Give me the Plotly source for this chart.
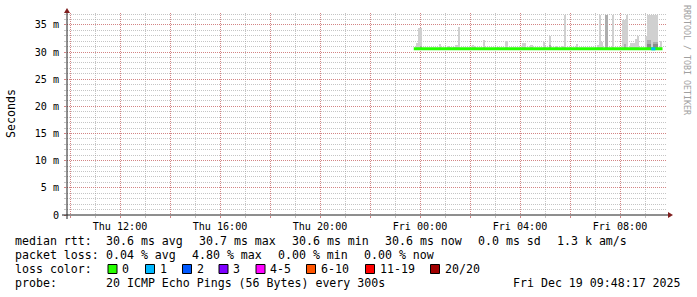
import plotly.graph_objects as go

# ---------------- data ----------------
x_range = ["2025-12-18 09:52:48", "2025-12-19 09:52:48"]
y_range = [0, 37.2]

median_rtt = 30.6
median_start = "2025-12-18 23:45"
median_end = "2025-12-19 09:42"
loss1_start = "2025-12-19 09:15"
loss1_end = "2025-12-19 09:25"

smoke_steps = [
    "2025-12-18 23:50", "2025-12-18 23:55", "2025-12-19 00:00", "2025-12-19 00:45",
    "2025-12-19 01:05", "2025-12-19 01:10", "2025-12-19 01:20", "2025-12-19 01:25",
    "2025-12-19 01:30", "2025-12-19 02:05", "2025-12-19 02:10", "2025-12-19 02:30",
    "2025-12-19 03:05", "2025-12-19 03:25", "2025-12-19 04:05", "2025-12-19 04:10",
    "2025-12-19 04:25", "2025-12-19 04:55", "2025-12-19 05:10", "2025-12-19 05:25",
    "2025-12-19 05:40", "2025-12-19 05:45", "2025-12-19 06:15", "2025-12-19 07:05",
    "2025-12-19 07:10", "2025-12-19 07:15", "2025-12-19 07:25", "2025-12-19 07:40",
    "2025-12-19 08:05", "2025-12-19 08:10", "2025-12-19 08:15", "2025-12-19 08:25",
    "2025-12-19 08:30", "2025-12-19 08:35", "2025-12-19 08:40", "2025-12-19 09:00",
    "2025-12-19 09:05", "2025-12-19 09:10", "2025-12-19 09:15", "2025-12-19 09:20",
    "2025-12-19 09:25", "2025-12-19 09:35",
]
smoke_hi = [
    31.6, 34.4, 34.4, 31.5,
    31.1, 31.0, 31.0, 31.3,
    34.7, 31.3, 31.2, 32.3,
    31.0, 32.0, 31.7, 31.7,
    31.3, 31.9, 33.0, 31.1,
    31.1, 36.8, 31.5, 31.3,
    36.8, 31.8, 36.8, 36.8,
    35.9, 35.9, 36.8, 31.6,
    31.6, 32.5, 33.0, 32.9,
    36.8, 36.8, 36.8, 36.8,
    36.8, 32.0,
]
smoke_mid = [
    None, None, 31.2, None,
    None, None, None, None,
    None, None, None, None,
    None, None, None, None,
    None, None, 31.3, None,
    None, None, None, None,
    None, None, 36.8, None,
    None, 31.5, None, None,
    None, None, None, None,
    32.2, 32.2, None, 31.8,
    31.8, None,
]
smoke_dark = [
    None, None, None, None,
    None, None, None, None,
    None, None, None, None,
    None, None, None, None,
    None, None, None, None,
    None, None, None, None,
    None, None, None, None,
    None, None, None, None,
    None, None, None, None,
    31.5, 31.5, None, 31.4,
    31.4, None,
]

ytick_vals = [0, 5, 10, 15, 20, 25, 30, 35]
ytick_text = ["0", "5 m", "10 m", "15 m", "20 m", "25 m", "30 m", "35 m"]
xtick_vals = ["2025-12-18 10:00", "2025-12-18 12:00", "2025-12-18 14:00", "2025-12-18 16:00",
              "2025-12-18 18:00", "2025-12-18 20:00", "2025-12-18 22:00", "2025-12-19 00:00",
              "2025-12-19 02:00", "2025-12-19 04:00", "2025-12-19 06:00", "2025-12-19 08:00"]
xtick_text = ["", "Thu 12:00", "", "Thu 16:00", "", "Thu 20:00", "", "Fri 00:00",
              "", "Fri 04:00", "", "Fri 08:00"]

legend_rows = [
    [("median rtt:", 16), ("30.6 ms avg", 107), ("30.7 ms max", 200), ("30.6 ms min", 293),
     ("30.6 ms now", 386), ("0.0 ms sd", 479), ("1.3 k am/s", 558)],
    [("packet loss:", 16), ("0.04 % avg", 107), ("4.80 % max", 193), ("0.00 % min", 279),
     ("0.00 % now", 365)],
    [("loss color:", 16)],
    [("probe:", 16), ("20 ICMP Echo Pings (56 Bytes) every 300s", 107)],
]
loss_labels = ["0", "1", "2", "3", "4-5", "6-10", "11-19", "20/20"]
loss_colors = ["#26ff00", "#00b8ff", "#0059ff", "#7e00ff", "#ff00ff", "#ff5500", "#ff0000", "#a10000"]
loss_swatch_x = [108, 145.5, 182.5, 219, 256, 306.5, 365.5, 430.5]
timestamp = "Fri Dec 19 09:48:17 2025"

# ---------------- layout geometry ----------------
W_PAGE, H_PAGE = 697, 297
PL, PR, PT, PB = 67, 667, 13, 215
PW, PH = PR - PL, PB - PT


def px(xp):
    return (xp - PL) / PW


def py(yp):
    return (PB - yp) / PH


MONO = "DejaVu Sans Mono"
STEP_MS = 300000

fig = go.Figure()


def add_band(values, color):
    xs = [t for t, v in zip(smoke_steps, values) if v is not None]
    ys = [v - median_rtt for v in values if v is not None]
    fig.add_trace(go.Bar(x=xs, y=ys, base=median_rtt, width=STEP_MS, offset=0,
                         marker=dict(color=color, line=dict(width=0)),
                         hoverinfo="skip", showlegend=False))


add_band(smoke_hi, "#d0d0d0")
add_band(smoke_mid, "#adadad")
add_band(smoke_dark, "#8a8a8a")

fig.add_trace(go.Scatter(x=[median_start, median_end], y=[median_rtt, median_rtt], mode="lines",
                         line=dict(color=loss_colors[0], width=3), hoverinfo="skip", showlegend=False))
fig.add_trace(go.Scatter(x=[loss1_start, loss1_end], y=[median_rtt, median_rtt], mode="lines",
                         line=dict(color=loss_colors[1], width=3), hoverinfo="skip", showlegend=False))

GRID = "rgba(150,150,150,0.55)"
MGRID = "rgba(222,79,79,0.55)"

fig.update_layout(
    width=W_PAGE, height=H_PAGE,
    margin=dict(l=PL, r=W_PAGE - PR, t=PT, b=H_PAGE - PB, pad=0),
    paper_bgcolor="white", plot_bgcolor="white",
    barmode="overlay", bargap=0,
    showlegend=False,
    font=dict(family=MONO, size=10, color="black"),
    xaxis=dict(type="date", range=x_range, tickmode="array", tickvals=xtick_vals, ticktext=xtick_text,
               showgrid=True, gridcolor=MGRID, griddash="1px,1px", gridwidth=1,
               ticks="outside", ticklen=2, tickcolor=MGRID,
               tickfont=dict(family=MONO, size=10.1, color="black"),
               showline=False, zeroline=False, fixedrange=True,
               minor=dict(tickmode="linear", tick0="2025-12-18 09:00", dtick=3600000,
                          showgrid=True, gridcolor=GRID, griddash="1px,1px", gridwidth=1,
                          ticks="outside", ticklen=2, tickcolor=GRID)),
    yaxis=dict(range=y_range, tickmode="array", tickvals=ytick_vals, ticktext=ytick_text,
               showgrid=True, gridcolor=MGRID, griddash="1px,1px", gridwidth=1,
               ticks="outside", ticklen=2, tickcolor=MGRID, ticklabelstandoff=3,
               tickfont=dict(family=MONO, size=10.1, color="black"),
               showline=False, zeroline=False, fixedrange=True,
               minor=dict(tickmode="linear", tick0=0, dtick=1,
                          showgrid=True, gridcolor=GRID, griddash="1px,1px", gridwidth=1,
                          ticks="outside", ticklen=2, tickcolor=GRID)),
)

AXIS = "#1f1f1f"
ARROW = "#801f1f"
shapes = [
    dict(type="line", xref="paper", yref="paper", x0=px(62), x1=px(669), y0=py(215), y1=py(215),
         line=dict(color=AXIS, width=1)),
    dict(type="line", xref="paper", yref="paper", x0=px(67), x1=px(67), y0=py(219), y1=py(11),
         line=dict(color=AXIS, width=1)),
    dict(type="path", xref="paper", yref="paper",
         path=f"M {px(64)} {py(13)} L {px(70)} {py(13)} L {px(67)} {py(8)} Z",
         fillcolor=ARROW, line=dict(color=ARROW, width=0)),
    dict(type="path", xref="paper", yref="paper",
         path=f"M {px(668)} {py(212)} L {px(668)} {py(218)} L {px(673)} {py(215)} Z",
         fillcolor=ARROW, line=dict(color=ARROW, width=0)),
]

annotations = []
LEG_FONT = dict(family=MONO, size=11.6, color="black")
row_y = [241, 255, 269, 283]
for row, yc in zip(legend_rows, row_y):
    for text, x0 in row:
        annotations.append(dict(text=text, x=px(x0 - 1), y=py(yc), xref="paper", yref="paper",
                                xanchor="left", yanchor="middle", showarrow=False,
                                font=LEG_FONT, borderpad=0, borderwidth=0))

for lab, col, sx in zip(loss_labels, loss_colors, loss_swatch_x):
    shapes.append(dict(type="rect", xref="paper", yref="paper",
                       x0=px(sx), x1=px(sx + 9), y0=py(273.5), y1=py(264.5),
                       fillcolor=col, line=dict(color="black", width=1)))
    annotations.append(dict(text=lab, x=px(sx + 14), y=py(269), xref="paper", yref="paper",
                            xanchor="left", yanchor="middle", showarrow=False,
                            font=LEG_FONT, borderpad=0, borderwidth=0))

annotations.append(dict(text=timestamp, x=px(681), y=py(283), xref="paper", yref="paper",
                        xanchor="right", yanchor="middle", showarrow=False,
                        font=LEG_FONT, borderpad=0, borderwidth=0))

annotations.append(dict(text="Seconds", x=px(11), y=py(114), xref="paper", yref="paper",
                        xanchor="center", yanchor="middle", showarrow=False, textangle=-90,
                        font=dict(family=MONO, size=11.6, color="black"), borderpad=0, borderwidth=0))

annotations.append(dict(text="RRDTOOL / TOBI OETIKER", x=px(687), y=py(60), xref="paper", yref="paper",
                        xanchor="center", yanchor="middle", showarrow=False, textangle=90,
                        font=dict(family=MONO, size=8.3, color="#a0a0a0"), borderpad=0, borderwidth=0))

fig.update_layout(shapes=shapes, annotations=annotations)

fig.write_html("out.html")
